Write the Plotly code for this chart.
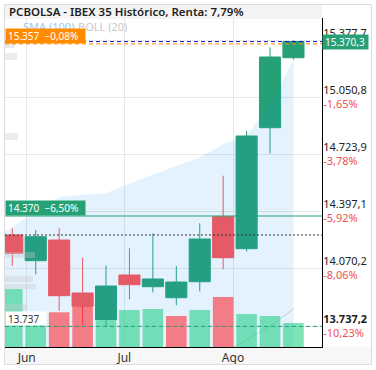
import plotly.graph_objects as go

# ---------------- data ----------------
weeks = list(range(13))
opens  = [14261.2, 14113.8, 14232.5, 13928.5, 13776.6, 14031.8, 13964.7, 13901.6, 13993.4, 14366.1, 14182.6, 14876.5, 15277.9]
highs  = [14299.6, 14289.8, 14299.6, 14131.0, 14086.3, 14184.9, 14270.9, 14083.4, 14328.2, 14601.2, 14857.5, 15337.5, 15377.7]
lows   = [14083.4, 14035.8, 13827.1, 13745.0, 13737.2, 13892.4, 13932.6, 13858.0, 13938.3, 14064.5, 14165.4, 14729.7, 15266.4]
closes = [14156.2, 14251.4, 13913.1, 13854.0, 13968.7, 13976.1, 14008.8, 13991.6, 14238.2, 14131.0, 14828.9, 15281.9, 15370.3]
volumes = [1763, 821, 1055, 1246, 821, 1125, 1155, 942, 1125, 1520, 1003, 942, 729]
vol_up  = [True, True, False, False, True, True, True, False, True, False, True, True, True]

sma_x   = [-1, 0, 1, 2, 3, 4, 5, 6, 7, 8, 9, 10, 11, 12]
sma_val = [14220, 14307.6, 14395, 14481, 14491, 14501, 14557, 14608, 14657, 14705, 14782, 14832, 15006, 15264.7]
boll_x  = [9, 10, 11, 12]
boll_low = [13590, 13659, 13739, 13837]

month_ticks  = [0.615, 4.78, 9.42]
month_labels = ["Jun", "Jul", "Ago"]

price_ticks = [15377.7, 15050.8, 14723.9, 14397.1, 14070.2, 13737.2]
price_labels = ["15.377,7", "15.050,8", "14.723,9", "14.397,1", "14.070,2", "<b>13.737,2</b>"]
pct_labels = ["&nbsp;", "-1,65%", "-3,78%", "-5,92%", "-8,06%", "-10,23%"]

title_text = "PCBOLSA - IBEX 35 Histórico, Renta: 7,79%"
order_price, order_label = 15357, "15.357&nbsp;&nbsp;−0,08%"
alert_price, alert_label = 14370, "14.370&nbsp;&nbsp;−6,50%"
last_label = "15.370,3"
low_label = "13.737"

# ---------------- style ----------------
GREEN = "#26a175"
RED = "#ff5252"
FONT = "Noto Sans"
W, H = 376, 370
L, R, T, B = 5, 54, 18, 23
PW, PH = W - L - R, H - T - B


def px(x):
    return (x - L) / PW


def py(y):
    return (H - B - y) / PH


fig = go.Figure()

fig.add_trace(go.Scatter(x=sma_x, y=sma_val, mode="lines", fill="tozeroy",
                         fillcolor="rgba(33,150,243,0.12)", line=dict(width=0, color="rgba(33,150,243,0.12)"),
                         hoverinfo="skip", showlegend=False))
fig.add_trace(go.Scatter(x=boll_x, y=boll_low, mode="lines",
                         line=dict(width=1, color="rgba(160,160,160,0.45)"),
                         hoverinfo="skip", showlegend=False))
fig.add_trace(go.Candlestick(x=weeks, open=opens, high=highs, low=lows, close=closes,
                             increasing=dict(line=dict(color=GREEN, width=1), fillcolor=GREEN),
                             decreasing=dict(line=dict(color=RED, width=1), fillcolor=RED),
                             whiskerwidth=0, showlegend=False, hoverinfo="skip"))
fig.add_trace(go.Bar(x=weeks, y=volumes, yaxis="y2", width=0.88,
                     marker=dict(color=["rgba(20,205,125,0.55)" if u else "rgba(255,30,35,0.55)" for u in vol_up],
                                 line=dict(width=0)),
                     hoverinfo="skip", showlegend=False))

ticktext = [f"{p}<br><span style='color:#f05252'>{q}</span>" for p, q in zip(price_labels, pct_labels)]

shapes = []
# frame, title band, bottom strip
shapes.append(dict(type="rect", xref="paper", yref="paper", x0=px(5), x1=px(322), y0=py(19), y1=py(5),
                   fillcolor="#f4f4f4", line=dict(width=0), layer="below"))
shapes.append(dict(type="rect", xref="paper", yref="paper", x0=px(5), x1=px(371), y0=py(364), y1=py(347),
                   fillcolor="#f7f7f7", line=dict(width=0), layer="below"))
shapes.append(dict(type="rect", xref="paper", yref="paper", x0=px(4.5), x1=px(371.5), y0=py(364.5), y1=py(4.5),
                   fillcolor="rgba(0,0,0,0)", line=dict(width=1, color="#dddddd"), layer="above"))
# ghost blocks on the left
for (x0, y0, x1, y1) in [(5, 43, 15, 48), (5, 53, 17, 60), (5, 133, 18, 140), (5, 252, 35, 258),
                         (5, 276, 33, 282), (5, 284, 36, 289), (5, 304, 27, 310)]:
    shapes.append(dict(type="rect", xref="paper", yref="paper", x0=px(x0), x1=px(x1), y0=py(y1), y1=py(y0),
                       fillcolor="rgba(200,200,200,0.35)", line=dict(width=0), layer="above"))
# price lines
shapes.append(dict(type="line", xref="paper", yref="y", x0=0, x1=1, y0=opens[0], y1=opens[0],
                   line=dict(color="#333333", width=1, dash="2px,2px")))
shapes.append(dict(type="line", xref="paper", yref="y", x0=0, x1=1, y0=alert_price, y1=alert_price,
                   line=dict(color=GREEN, width=1.2)))
shapes.append(dict(type="line", xref="paper", yref="y", x0=0, x1=1, y0=min(lows), y1=min(lows),
                   line=dict(color=GREEN, width=1, dash="4px,3px")))
shapes.append(dict(type="line", xref="paper", yref="y", x0=0, x1=1, y0=order_price, y1=order_price,
                   line=dict(color="#ff8c00", width=1, dash="4px,3px")))
shapes.append(dict(type="line", xref="paper", yref="y", x0=0, x1=1, y0=closes[-1], y1=closes[-1],
                   line=dict(color="#1010c8", width=1, dash="4px,3px")))

annotations = [
    dict(text=title_text, xref="paper", yref="paper", x=px(6.5), y=py(12), xanchor="left", yanchor="middle",
         showarrow=False, font=dict(family=FONT, size=11.5, color="#1e1e1e", weight=600)),
    dict(text="SMA (100)", xref="paper", yref="paper", x=px(21), y=py(26), xanchor="left", yanchor="middle",
         showarrow=False, font=dict(family=FONT, size=11, color="#95cbf5")),
    dict(text="BOLL (20)", xref="paper", yref="paper", x=px(76), y=py(26), xanchor="left", yanchor="middle",
         showarrow=False, font=dict(family=FONT, size=11, color="#c8c8c8")),
    dict(text=order_label, xref="paper", yref="y", x=px(5), y=order_price, xanchor="left", yanchor="bottom",
         showarrow=False, bgcolor="#ff8c00", width=75, height=10, borderpad=2, align="left",
         font=dict(family=FONT, size=10, color="white")),
    dict(text=alert_label, xref="paper", yref="y", x=px(5), y=alert_price, xanchor="left", yanchor="bottom",
         showarrow=False, bgcolor=GREEN, width=75, height=10, borderpad=2, align="left",
         font=dict(family=FONT, size=10, color="white")),
    dict(text=low_label, xref="paper", yref="y", x=px(5), y=min(lows), xanchor="left", yanchor="bottom",
         showarrow=False, bgcolor="white", width=36, height=9, borderpad=2, align="left",
         font=dict(family=FONT, size=10, color="#333333")),
    dict(text=last_label, xref="paper", yref="y", x=px(322), y=closes[-1], xanchor="left", yanchor="middle",
         showarrow=False, bgcolor=GREEN, width=41, height=10, borderpad=2, align="left",
         font=dict(family=FONT, size=10, color="white")),
]

fig.update_layout(
    width=W, height=H, margin=dict(l=L, r=R, t=T, b=B, autoexpand=False),
    paper_bgcolor="white", plot_bgcolor="white",
    boxgap=0.1, boxgroupgap=0,
    showlegend=False,
    font=dict(family=FONT),
    xaxis=dict(range=[-0.312, 13.218], tickvals=month_ticks, ticktext=month_labels,
               showgrid=True, gridcolor="#e8e8e8", gridwidth=1, zeroline=False,
               showline=True, linecolor="black", linewidth=1, ticks="", automargin=False,
               tickfont=dict(family=FONT, size=12, color="#333333"),
               rangeslider=dict(visible=False)),
    yaxis=dict(side="right", range=[13618.9, 15505.5], tickvals=price_ticks, ticktext=ticktext,
               showgrid=True, gridcolor="#e8e8e8", gridwidth=1, zeroline=False, automargin=False,
               showline=True, linecolor="black", linewidth=1, ticks="", ticklabelstandoff=-2,
               tickfont=dict(family=FONT, size=11, color="#222222")),
    yaxis2=dict(overlaying="y", range=[0, 10000], visible=False),
    shapes=shapes,
    annotations=annotations,
)

fig.write_html("out.html", config={"displayModeBar": False},
               post_script="document.body.style.margin='0';document.body.style.overflow='hidden';")
